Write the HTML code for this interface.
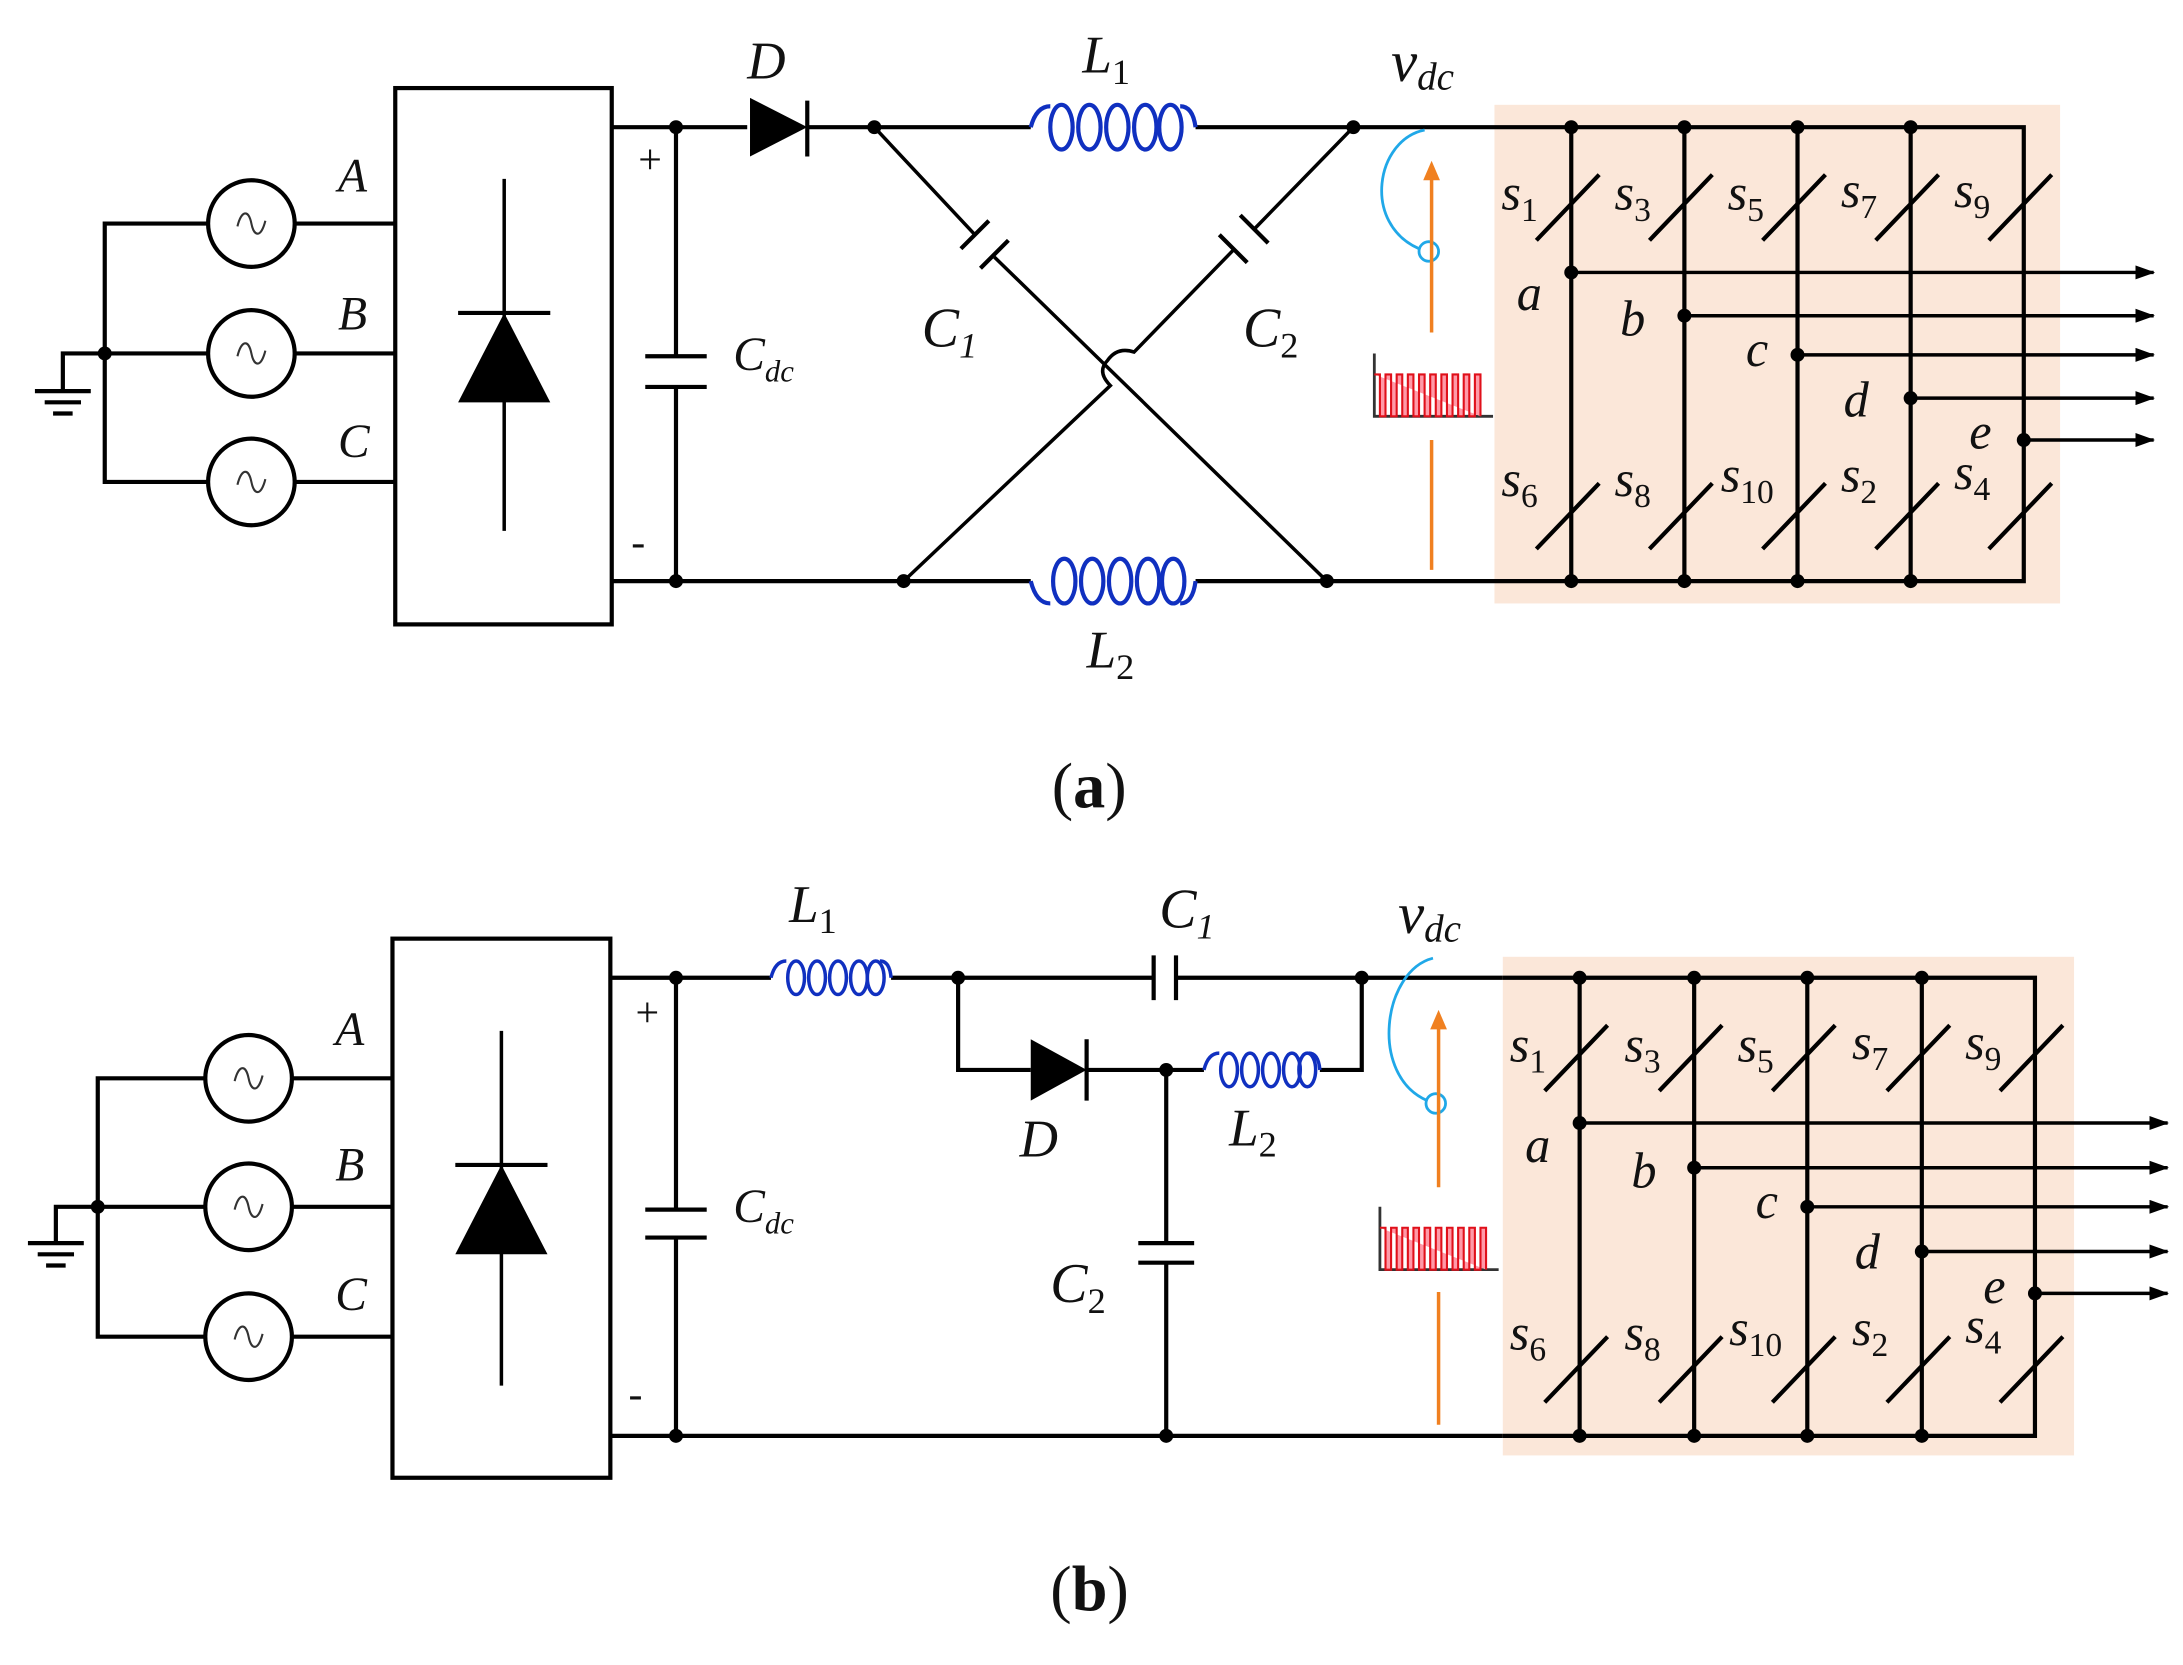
<!DOCTYPE html>
<html><head><meta charset="utf-8"><style>
html,body{margin:0;padding:0;background:#fff}
svg{display:block}
text{font-family:"Liberation Serif",serif;font-style:italic;fill:#111}
.sub{font-style:normal}
.up{font-style:normal}
</style></head><body>
<svg width="2183" height="1665" viewBox="0 0 1563 1192" xmlns="http://www.w3.org/2000/svg">
<defs>
<marker id="ar" markerWidth="14" markerHeight="10" refX="13" refY="5" orient="auto" markerUnits="userSpaceOnUse"><path d="M0,0 L14,5 L0,10 z" fill="#000"/></marker>
<marker id="oa" markerWidth="14" markerHeight="14" refX="7" refY="7" orient="auto" markerUnits="userSpaceOnUse"><path d="M0,1 L14,7 L0,13 z" fill="#f08020"/></marker>
<g id="src"><circle r="31" fill="#fff" stroke="#000" stroke-width="3"/><path d="M-10,2 C-7,-10 -2,-10 0,0 C2,10 7,10 10,-2" fill="none" stroke="#333" stroke-width="1.5"/></g>
<g id="dot"><circle r="5" fill="#000"/></g>
<g id="pulse"><path d="M0,0 V45 H85" fill="none" stroke="#333" stroke-width="2"/>
<path d="M0,15 H4 V45 H8 V15 H12 V45 H16 V15 H20 V45 H24 V15 H28 V45 H32 V15 H36 V45 H40 V15 H44 V45 H48 V15 H52 V45 H56 V15 H60 V45 H64 V15 H68 V45 H72 V15 H76 V45" fill="#ff9aa8" stroke="#e0101a" stroke-width="1.5"/></g>
</defs>

<!-- ===== PANEL A ===== -->
<g stroke="#000" stroke-width="3" fill="none">
<rect x="283" y="63" width="155" height="384"/>
<path d="M211,160 H283 M211,253 H283 M211,345 H283 M149,160 H75 V345 H149 M149,253 H75 M75,253 H45 V280"/>
<path d="M25,280 H65 M32,288 H58 M38,296 H52"/>
<path d="M361,128 V380" stroke-width="2.5"/>
<path d="M328,224 H394"/>
</g>
<polygon points="361,224 328,288 394,288" fill="#000"/>
<use href="#src" x="180" y="160"/><use href="#src" x="180" y="253"/><use href="#src" x="180" y="345"/>
<use href="#dot" x="75" y="253"/>
<text x="242" y="137" font-size="34">A</text>
<text x="242" y="236" font-size="34">B</text>
<text x="242" y="327" font-size="34">C</text>

<rect x="1070" y="75" width="405" height="357" fill="#fbe7d9"/>
<g stroke="#000" stroke-width="3" fill="none">
<path d="M438,91 H535 M578,91 H738 M856,91 H1449 V416 H856 M738,416 H438"/>
<path d="M484,91 V255 M462,255 H506 M462,277 H506 M484,277 V416"/>
<path d="M578,72 V112" stroke-width="3"/>
<path d="M626,91 L698,168 M712,184 L950,416" stroke-width="2.5"/>
<path d="M688,178 L708,158 M702,192 L722,172" stroke-width="3"/>
<path d="M969,91 L898,164 M884,178 L812,252 Q800,248 793,258 Q785,266 795,276 L647,416" stroke-width="2.5"/>
<path d="M873,168 L893,188 M888,154 L908,174" stroke-width="3"/>
<path d="M1125,91 V416 M1206,91 V416 M1287,91 V416 M1368,91 V416"/>
</g>
<polygon points="537,70 578,91 537,112" fill="#000"/>
<g fill="none" stroke="#1030c0" stroke-width="3">
<path d="M738,91 Q742,76 752,76"/><path d="M845,76 Q854,76 856,91"/>
<ellipse cx="760" cy="91" rx="8" ry="16"/><ellipse cx="780" cy="91" rx="8" ry="16"/><ellipse cx="800" cy="91" rx="8" ry="16"/><ellipse cx="820" cy="91" rx="8" ry="16"/><ellipse cx="838" cy="91" rx="8" ry="16"/>
<path d="M738,416 Q742,432 752,432"/><path d="M845,432 Q854,432 856,416"/>
<ellipse cx="762" cy="416" rx="8" ry="16"/><ellipse cx="782" cy="416" rx="8" ry="16"/><ellipse cx="802" cy="416" rx="8" ry="16"/><ellipse cx="822" cy="416" rx="8" ry="16"/><ellipse cx="840" cy="416" rx="8" ry="16"/>
</g>
<g>
<use href="#dot" x="484" y="91"/><use href="#dot" x="484" y="416"/><use href="#dot" x="626" y="91"/><use href="#dot" x="969" y="91"/><use href="#dot" x="647" y="416"/><use href="#dot" x="950" y="416"/>
<use href="#dot" x="1125" y="91"/><use href="#dot" x="1206" y="91"/><use href="#dot" x="1287" y="91"/><use href="#dot" x="1368" y="91"/>
<use href="#dot" x="1125" y="416"/><use href="#dot" x="1206" y="416"/><use href="#dot" x="1287" y="416"/><use href="#dot" x="1368" y="416"/>
<use href="#dot" x="1125" y="195"/><use href="#dot" x="1206" y="226"/><use href="#dot" x="1287" y="254"/><use href="#dot" x="1368" y="285"/><use href="#dot" x="1449" y="315"/>
</g>
<g stroke="#000" stroke-width="2.5" fill="none" marker-end="url(#ar)">
<path d="M1125,195 H1542"/><path d="M1206,226 H1542"/><path d="M1287,254 H1542"/><path d="M1368,285 H1542"/><path d="M1449,315 H1542"/>
</g>
<g stroke="#000" stroke-width="3">
<path d="M1100,172 L1145,125 M1181,172 L1226,125 M1262,172 L1307,125 M1343,172 L1388,125 M1424,172 L1469,125"/>
<path d="M1100,393 L1145,346 M1181,393 L1226,346 M1262,393 L1307,346 M1343,393 L1388,346 M1424,393 L1469,346"/>
</g>
<path d="M1020,93 C985,100 975,160 1016,178" fill="none" stroke="#20a8e8" stroke-width="2"/>
<circle cx="1023" cy="180" r="7" fill="none" stroke="#20a8e8" stroke-width="2"/>
<path d="M1025,238 V122" stroke="#f08020" stroke-width="2.5" marker-end="url(#oa)"/>
<path d="M1025,315 V408" stroke="#f08020" stroke-width="2.5"/>
<use href="#pulse" x="984" y="253"/>
<text x="457" y="124" font-size="30" class="up">+</text>
<text x="452" y="398" font-size="30" class="up">-</text>
<text x="525" y="265" font-size="34">C<tspan font-size="22" dy="8">dc</tspan></text>
<text x="535" y="56" font-size="38">D</text>
<text x="775" y="52" font-size="38">L<tspan class="sub" font-size="26" dy="8">1</tspan></text>
<text x="778" y="478" font-size="38">L<tspan class="sub" font-size="26" dy="8">2</tspan></text>
<text x="660" y="248" font-size="40">C<tspan font-size="26" dy="8">1</tspan></text>
<text x="890" y="248" font-size="40">C<tspan class="sub" font-size="26" dy="8">2</tspan></text>
<text x="996" y="58" font-size="42">v<tspan font-size="28" dy="6">dc</tspan></text>
<g font-size="36">
<text x="1075" y="150">s<tspan class="sub" font-size="24" dy="8">1</tspan></text>
<text x="1156" y="150">s<tspan class="sub" font-size="24" dy="8">3</tspan></text>
<text x="1237" y="150">s<tspan class="sub" font-size="24" dy="8">5</tspan></text>
<text x="1318" y="148">s<tspan class="sub" font-size="24" dy="8">7</tspan></text>
<text x="1399" y="148">s<tspan class="sub" font-size="24" dy="8">9</tspan></text>
<text x="1075" y="355">s<tspan class="sub" font-size="24" dy="8">6</tspan></text>
<text x="1156" y="355">s<tspan class="sub" font-size="24" dy="8">8</tspan></text>
<text x="1232" y="352">s<tspan class="sub" font-size="24" dy="8">10</tspan></text>
<text x="1318" y="352">s<tspan class="sub" font-size="24" dy="8">2</tspan></text>
<text x="1399" y="350">s<tspan class="sub" font-size="24" dy="8">4</tspan></text>
<text x="1086" y="222">a</text><text x="1160" y="240">b</text><text x="1250" y="262">c</text><text x="1320" y="298">d</text><text x="1410" y="321">e</text>
</g>
<text x="753" y="578" font-size="46" class="up">(<tspan font-weight="bold">a</tspan>)</text>

<!-- ===== PANEL B ===== -->
<g stroke="#000" stroke-width="3" fill="none">
<rect x="281" y="672" width="156" height="386"/>
<path d="M209,772 H281 M209,864 H281 M209,957 H281 M147,772 H70 V957 H147 M147,864 H70 M70,864 H40 V890"/>
<path d="M20,890 H60 M27,898 H53 M33,906 H47"/>
<path d="M359,738 V992" stroke-width="2.5"/>
<path d="M326,834 H392"/>
<path d="M437,700 H552 M638,700 H826 M842,700 H975 V766 H945 M862,766 H835 M686,700 V766 H738 M778,766 H835"/>
<path d="M826,684 V716 M842,684 V716"/>
<path d="M778,744 V788"/>
<path d="M835,766 V890 M815,890 H855 M815,904 H855 M835,904 V1028"/>
<path d="M484,700 V866 M462,866 H506 M462,886 H506 M484,886 V1028"/>
<path d="M437,1028 H1457 V700 H975"/>
</g>
<polygon points="359,834 326,898 392,898" fill="#000"/>
<polygon points="738,744 778,766 738,788" fill="#000"/>
<use href="#src" x="178" y="772"/><use href="#src" x="178" y="864"/><use href="#src" x="178" y="957"/>
<use href="#dot" x="70" y="864"/>
<text x="240" y="748" font-size="34">A</text>
<text x="240" y="845" font-size="34">B</text>
<text x="240" y="938" font-size="34">C</text>
<g fill="none" stroke="#1030c0" stroke-width="2.5">
<path d="M552,700 Q555,688 563,688"/><path d="M630,688 Q637,688 638,700"/>
<ellipse cx="570" cy="700" rx="6" ry="12"/><ellipse cx="585" cy="700" rx="6" ry="12"/><ellipse cx="600" cy="700" rx="6" ry="12"/><ellipse cx="615" cy="700" rx="6" ry="12"/><ellipse cx="627" cy="700" rx="6" ry="12"/>
<path d="M862,766 Q865,754 873,754"/><path d="M937,754 Q944,754 945,766"/>
<ellipse cx="880" cy="766" rx="6" ry="12"/><ellipse cx="895" cy="766" rx="6" ry="12"/><ellipse cx="910" cy="766" rx="6" ry="12"/><ellipse cx="925" cy="766" rx="6" ry="12"/><ellipse cx="936" cy="766" rx="6" ry="12"/>
</g>
<rect x="1076" y="685" width="409" height="357" fill="#fbe7d9"/>
<g stroke="#000" stroke-width="3" fill="none">
<path d="M1076,700 H1457 V1028 H1076 M1131,700 V1028 M1213,700 V1028 M1294,700 V1028 M1376,700 V1028"/>
</g>
<g>
<use href="#dot" x="484" y="700"/><use href="#dot" x="484" y="1028"/><use href="#dot" x="686" y="700"/><use href="#dot" x="975" y="700"/><use href="#dot" x="835" y="766"/><use href="#dot" x="835" y="1028"/>
<use href="#dot" x="1131" y="700"/><use href="#dot" x="1213" y="700"/><use href="#dot" x="1294" y="700"/><use href="#dot" x="1376" y="700"/>
<use href="#dot" x="1131" y="1028"/><use href="#dot" x="1213" y="1028"/><use href="#dot" x="1294" y="1028"/><use href="#dot" x="1376" y="1028"/>
<use href="#dot" x="1131" y="804"/><use href="#dot" x="1213" y="836"/><use href="#dot" x="1294" y="864"/><use href="#dot" x="1376" y="896"/><use href="#dot" x="1457" y="926"/>
</g>
<g stroke="#000" stroke-width="2.5" fill="none" marker-end="url(#ar)">
<path d="M1131,804 H1552"/><path d="M1213,836 H1552"/><path d="M1294,864 H1552"/><path d="M1376,896 H1552"/><path d="M1457,926 H1552"/>
</g>
<g stroke="#000" stroke-width="3">
<path d="M1106,781 L1151,734 M1188,781 L1233,734 M1269,781 L1314,734 M1351,781 L1396,734 M1432,781 L1477,734"/>
<path d="M1106,1004 L1151,957 M1188,1004 L1233,957 M1269,1004 L1314,957 M1351,1004 L1396,957 M1432,1004 L1477,957"/>
</g>
<path d="M1026,686 C990,695 980,770 1022,788" fill="none" stroke="#20a8e8" stroke-width="2"/>
<circle cx="1028" cy="790" r="7" fill="none" stroke="#20a8e8" stroke-width="2"/>
<path d="M1030,850 V730" stroke="#f08020" stroke-width="2.5" marker-end="url(#oa)"/>
<path d="M1030,925 V1020" stroke="#f08020" stroke-width="2.5"/>
<use href="#pulse" x="988" y="864"/>
<text x="455" y="735" font-size="30" class="up">+</text>
<text x="450" y="1008" font-size="30" class="up">-</text>
<text x="525" y="875" font-size="34">C<tspan font-size="22" dy="8">dc</tspan></text>
<text x="565" y="660" font-size="38">L<tspan class="sub" font-size="26" dy="8">1</tspan></text>
<text x="830" y="664" font-size="40">C<tspan font-size="26" dy="8">1</tspan></text>
<text x="730" y="828" font-size="38">D</text>
<text x="880" y="820" font-size="38">L<tspan class="sub" font-size="26" dy="8">2</tspan></text>
<text x="752" y="932" font-size="40">C<tspan class="sub" font-size="26" dy="8">2</tspan></text>
<text x="1001" y="668" font-size="42">v<tspan font-size="28" dy="6">dc</tspan></text>
<g font-size="36">
<text x="1081" y="760">s<tspan class="sub" font-size="24" dy="8">1</tspan></text>
<text x="1163" y="760">s<tspan class="sub" font-size="24" dy="8">3</tspan></text>
<text x="1244" y="760">s<tspan class="sub" font-size="24" dy="8">5</tspan></text>
<text x="1326" y="758">s<tspan class="sub" font-size="24" dy="8">7</tspan></text>
<text x="1407" y="758">s<tspan class="sub" font-size="24" dy="8">9</tspan></text>
<text x="1081" y="966">s<tspan class="sub" font-size="24" dy="8">6</tspan></text>
<text x="1163" y="966">s<tspan class="sub" font-size="24" dy="8">8</tspan></text>
<text x="1238" y="963">s<tspan class="sub" font-size="24" dy="8">10</tspan></text>
<text x="1326" y="963">s<tspan class="sub" font-size="24" dy="8">2</tspan></text>
<text x="1407" y="961">s<tspan class="sub" font-size="24" dy="8">4</tspan></text>
<text x="1092" y="832">a</text><text x="1168" y="850">b</text><text x="1257" y="872">c</text><text x="1328" y="908">d</text><text x="1420" y="933">e</text>
</g>
<text x="752" y="1153" font-size="46" class="up">(<tspan font-weight="bold">b</tspan>)</text>
</svg>
</body></html>
